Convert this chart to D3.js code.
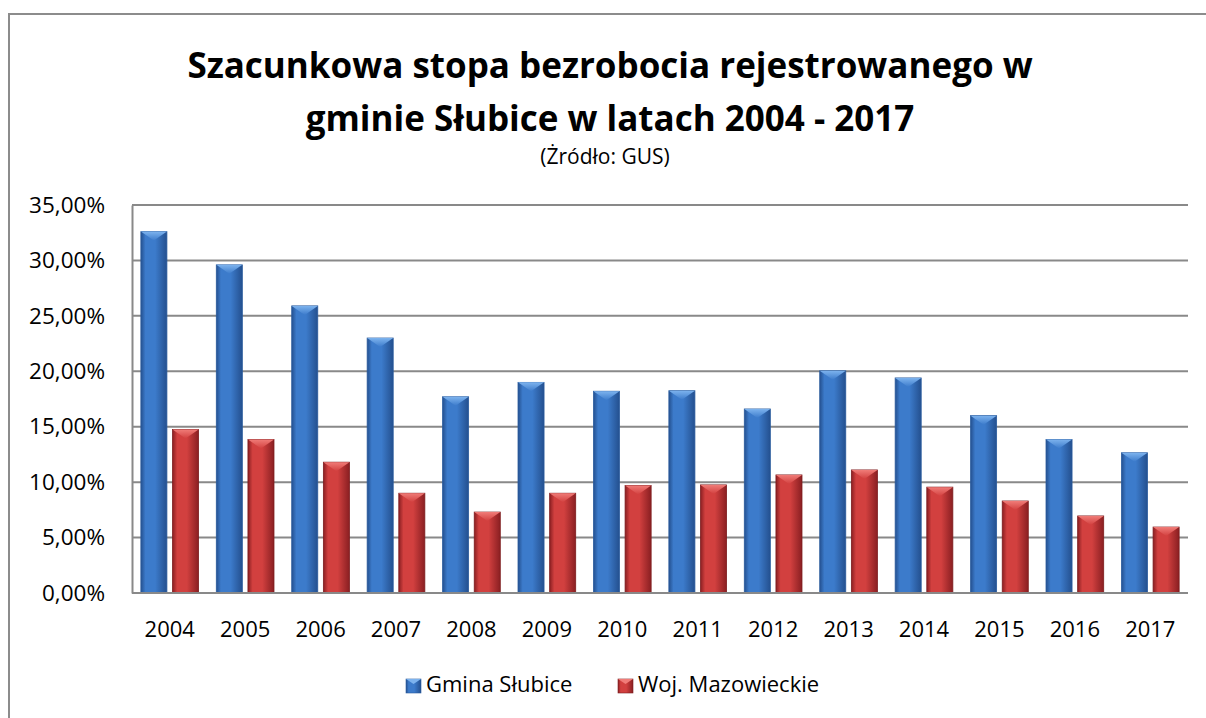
<!DOCTYPE html>
<html>
<head>
<meta charset="utf-8">
<script src="https://cdn.jsdelivr.net/npm/d3@7"></script>
<style>
  html, body { margin: 0; padding: 0; background: #fff; }
  svg { display: block; font-family: "Open Sans", "Noto Sans", sans-serif; }
</style>
</head>
<body>
<svg id="chart" width="1206" height="718"></svg>
<script>
var years = ["2004", "2005", "2006", "2007", "2008", "2009", "2010", "2011", "2012", "2013", "2014", "2015", "2016", "2017"];
var gmina = [32.6, 29.6, 25.9, 23.0, 17.7, 19.0, 18.2, 18.25, 16.6, 20.05, 19.4, 16.0, 13.85, 12.65];
var woj = [14.75, 13.85, 11.8, 9.0, 7.3, 9.0, 9.7, 9.75, 10.65, 11.1, 9.55, 8.3, 6.95, 5.95];
var seriesNames = ["Gmina Słubice", "Woj. Mazowieckie"];
var yTicks = [0, 5, 10, 15, 20, 25, 30, 35];

var svg = d3.select("#chart");

// colours: edge dark, centre, top bevel
var pal = [
  {dark: "#24508f", mid: "#3c7bcb", light: "#7db3ee", stroke: "#2b5c9e"},
  {dark: "#8a1f22", mid: "#d2403f", light: "#f07c78", stroke: "#7d1c1e"}
];

var defs = svg.append("defs");
pal.forEach(function (p, i) {
  var g = defs.append("linearGradient").attr("id", "grad" + i)
    .attr("x1", "0").attr("x2", "1").attr("y1", "0").attr("y2", "0");
  g.append("stop").attr("offset", "0").attr("stop-color", p.dark);
  g.append("stop").attr("offset", "0.18").attr("stop-color", p.mid);
  g.append("stop").attr("offset", "0.55").attr("stop-color", p.mid);
  g.append("stop").attr("offset", "1").attr("stop-color", p.dark);
  var t = defs.append("linearGradient").attr("id", "top" + i)
    .attr("x1", "0").attr("x2", "0").attr("y1", "0").attr("y2", "1");
  t.append("stop").attr("offset", "0").attr("stop-color", p.light);
  t.append("stop").attr("offset", "1").attr("stop-color", p.mid);
});

// outer chart frame
svg.append("rect")
  .attr("x", 9).attr("y", 14).attr("width", 1220).attr("height", 720)
  .attr("fill", "none").attr("stroke", "#8c8c8c").attr("stroke-width", 2);

// titles
svg.append("text").attr("x", 610).attr("y", 78).attr("text-anchor", "middle")
  .attr("font-size", 35).attr("font-weight", "bold").attr("fill", "#000")
  .text("Szacunkowa stopa bezrobocia rejestrowanego w");
svg.append("text").attr("x", 610).attr("y", 131).attr("text-anchor", "middle")
  .attr("font-size", 35).attr("font-weight", "bold").attr("fill", "#000")
  .text("gminie Słubice w latach 2004 - 2017");
svg.append("text").attr("x", 605).attr("y", 164).attr("text-anchor", "middle")
  .attr("font-size", 21).attr("fill", "#000")
  .text("(Żródło: GUS)");

var plotLeft = 132, plotRight = 1188, plotTop = 205, plotBottom = 593;

var x = d3.scaleBand().domain(years).range([plotLeft, plotRight]).paddingInner(0.235).paddingOuter(0.1175);
var xs = d3.scaleBand().domain([0, 1]).range([0, x.bandwidth()]).paddingInner(0.177);
var y = d3.scaleLinear().domain([0, 35]).range([plotBottom, plotTop]);

var pl = d3.formatLocale({decimal: ",", thousands: " ", grouping: [3], currency: ["", " zł"]});
var fmt = pl.format(".2f");

// gridlines
svg.append("g").selectAll("line").data(yTicks).enter().append("line")
  .attr("x1", plotLeft).attr("x2", plotRight)
  .attr("y1", function (d) { return y(d); }).attr("y2", function (d) { return y(d); })
  .attr("stroke", "#898989").attr("stroke-width", 2);

// y axis
var yAxis = svg.append("g").attr("transform", "translate(" + plotLeft + ",0)")
  .call(d3.axisLeft(y).tickValues(yTicks).tickSize(0).tickPadding(27)
    .tickFormat(function (d) { return fmt(d) + "%"; }));
yAxis.select(".domain").attr("stroke", "#898989").attr("stroke-width", 2);
yAxis.selectAll("text").attr("font-size", 22.5).attr("fill", "#000")
  .attr("font-family", "'Open Sans', sans-serif");

// bars
var rows = years.map(function (yr, i) { return {year: yr, vals: [gmina[i], woj[i]]}; });
var groups = svg.append("g").selectAll("g").data(rows).enter().append("g")
  .attr("transform", function (d) { return "translate(" + x(d.year) + ",0)"; });

groups.each(function (d) {
  var g = d3.select(this);
  d.vals.forEach(function (v, s) {
    var bx = xs(s), bw = xs.bandwidth(), by = y(v), bh = y(0) - y(v);
    g.append("rect").attr("x", bx).attr("y", by).attr("width", bw).attr("height", bh)
      .attr("fill", "url(#grad" + s + ")").attr("stroke", pal[s].stroke).attr("stroke-width", 0.8);
    g.append("path")
      .attr("d", "M" + bx + "," + by + "L" + (bx + bw) + "," + by + "L" + (bx + bw / 2) + "," + (by + Math.min(9, bh)) + "Z")
      .attr("fill", "url(#top" + s + ")");
  });
});

// x axis
var xAxis = svg.append("g").attr("transform", "translate(0," + plotBottom + ")")
  .call(d3.axisBottom(x).tickSize(0).tickPadding(28));
xAxis.select(".domain").remove();
xAxis.selectAll("text").attr("font-size", 22).attr("fill", "#000")
  .attr("font-family", "'Open Sans', sans-serif");

// bottom line drawn over the bars
svg.append("line").attr("x1", plotLeft).attr("x2", plotRight).attr("y1", plotBottom).attr("y2", plotBottom)
  .attr("stroke", "#898989").attr("stroke-width", 2);

// legend
var legX = [406, 618];
var leg = svg.append("g").selectAll("g").data(seriesNames).enter().append("g")
  .attr("transform", function (d, i) { return "translate(" + legX[i] + ",679)"; });
leg.append("rect").attr("width", 15).attr("height", 14)
  .attr("fill", function (d, i) { return "url(#grad" + i + ")"; })
  .attr("stroke", function (d, i) { return pal[i].stroke; }).attr("stroke-width", 0.6);
leg.append("path").attr("d", "M0,0L15,0L7.5,5Z")
  .attr("fill", function (d, i) { return pal[i].light; });
leg.append("text").attr("x", 20).attr("y", 13).attr("font-size", 22).attr("fill", "#000")
  .text(function (d) { return d; });
</script>
</body>
</html>
